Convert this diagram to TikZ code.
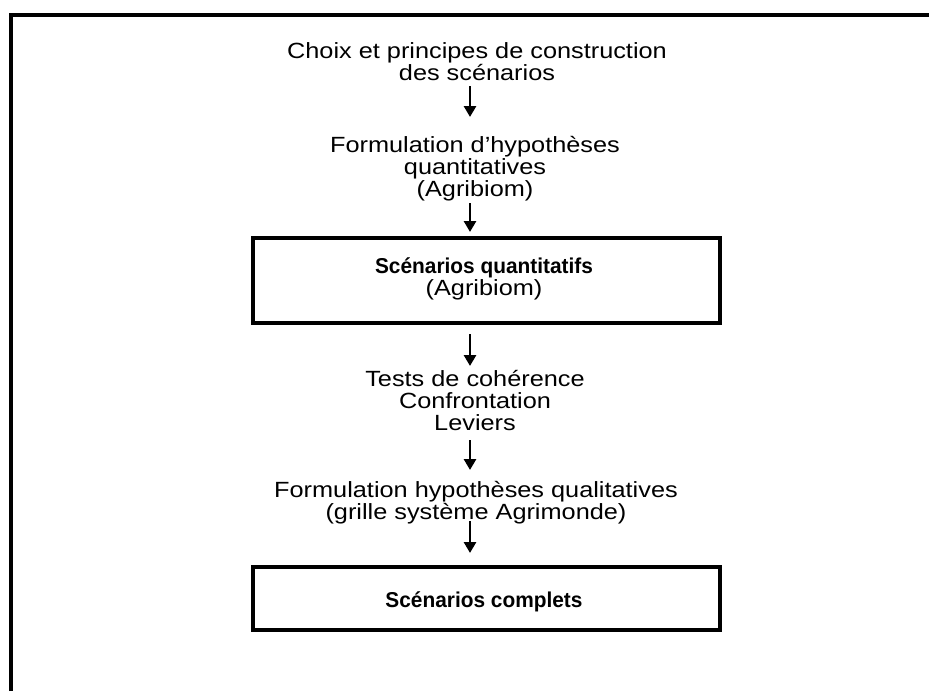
\documentclass[tikz,border=0pt]{standalone}
\usepackage{fontspec}
\setmainfont{Liberation Sans}
\usepackage{graphicx}
\usetikzlibrary{arrows.meta}
\newcommand{\wtxt}[1]{\scalebox{1.15}[1]{#1}}
\newcommand{\btxt}[1]{\scalebox{0.97}[1]{\bfseries #1}}
\begin{document}
\begin{tikzpicture}[x=1pt,y=-1pt,
  lbl/.style={anchor=base, inner sep=0pt, font=\fontsize{22}{24}\selectfont},
  blbl/.style={anchor=base, inner sep=0pt, font=\fontsize{21.5}{23}\selectfont},
  arr/.style={line width=2.8pt, -{Triangle[length=11pt,width=12pt]}},
  stepbox/.style={draw, line width=4.5pt, inner sep=0pt},
  frame/.style={line width=4pt, line join=miter}]
\useasboundingbox (0,0) rectangle (929,691);
% frame
\coordinate (fb) at (11,691);
\coordinate (fc) at (11,14.5);
\coordinate (fr) at (929,14.5);
\draw[frame] (fb) -- (fc) -- (fr);
% boxes
\node[stepbox, minimum width=467pt, minimum height=85pt] (b1) at (486.5,280.5) {};
\node[stepbox, minimum width=467pt, minimum height=63pt] (b2) at (486.5,598.5) {};
% texts
\node[lbl] (t1a) at (477,58) {\wtxt{Choix et principes de construction}};
\node[lbl] (t1b) at (477,80) {\wtxt{des scénarios}};
\node[lbl] (t2a) at (475,152) {\wtxt{Formulation d’hypothèses}};
\node[lbl] (t2b) at (475,174) {\wtxt{quantitatives}};
\node[lbl] (t2c) at (475,196) {\wtxt{(Agribiom)}};
\node[blbl] (q1) at (484,273) {\btxt{Scénarios quantitatifs}};
\node[lbl] (q2) at (484,295) {\wtxt{(Agribiom)}};
\node[lbl] (t3a) at (475,386) {\wtxt{Tests de cohérence}};
\node[lbl] (t3b) at (475,408) {\wtxt{Confrontation}};
\node[lbl] (t3c) at (475,430) {\wtxt{Leviers}};
\node[lbl] (t4a) at (476,497) {\wtxt{Formulation hypothèses qualitatives}};
\node[lbl] (t4b) at (476,519) {\wtxt{(grille système Agrimonde)}};
\node[blbl] (c1) at (484,607) {\btxt{Scénarios complets}};
% arrows
\coordinate (a1s) at (470,86);  \coordinate (a1e) at (470,117);
\coordinate (a2s) at (470,203); \coordinate (a2e) at (470,232);
\coordinate (a3s) at (470,334); \coordinate (a3e) at (470,366);
\coordinate (a4s) at (470,440); \coordinate (a4e) at (470,470);
\coordinate (a5s) at (470,521); \coordinate (a5e) at (470,553);
\draw[arr] (a1s) -- (a1e);
\draw[arr] (a2s) -- (a2e);
\draw[arr] (a3s) -- (a3e);
\draw[arr] (a4s) -- (a4e);
\draw[arr] (a5s) -- (a5e);
\end{tikzpicture}
\end{document}
